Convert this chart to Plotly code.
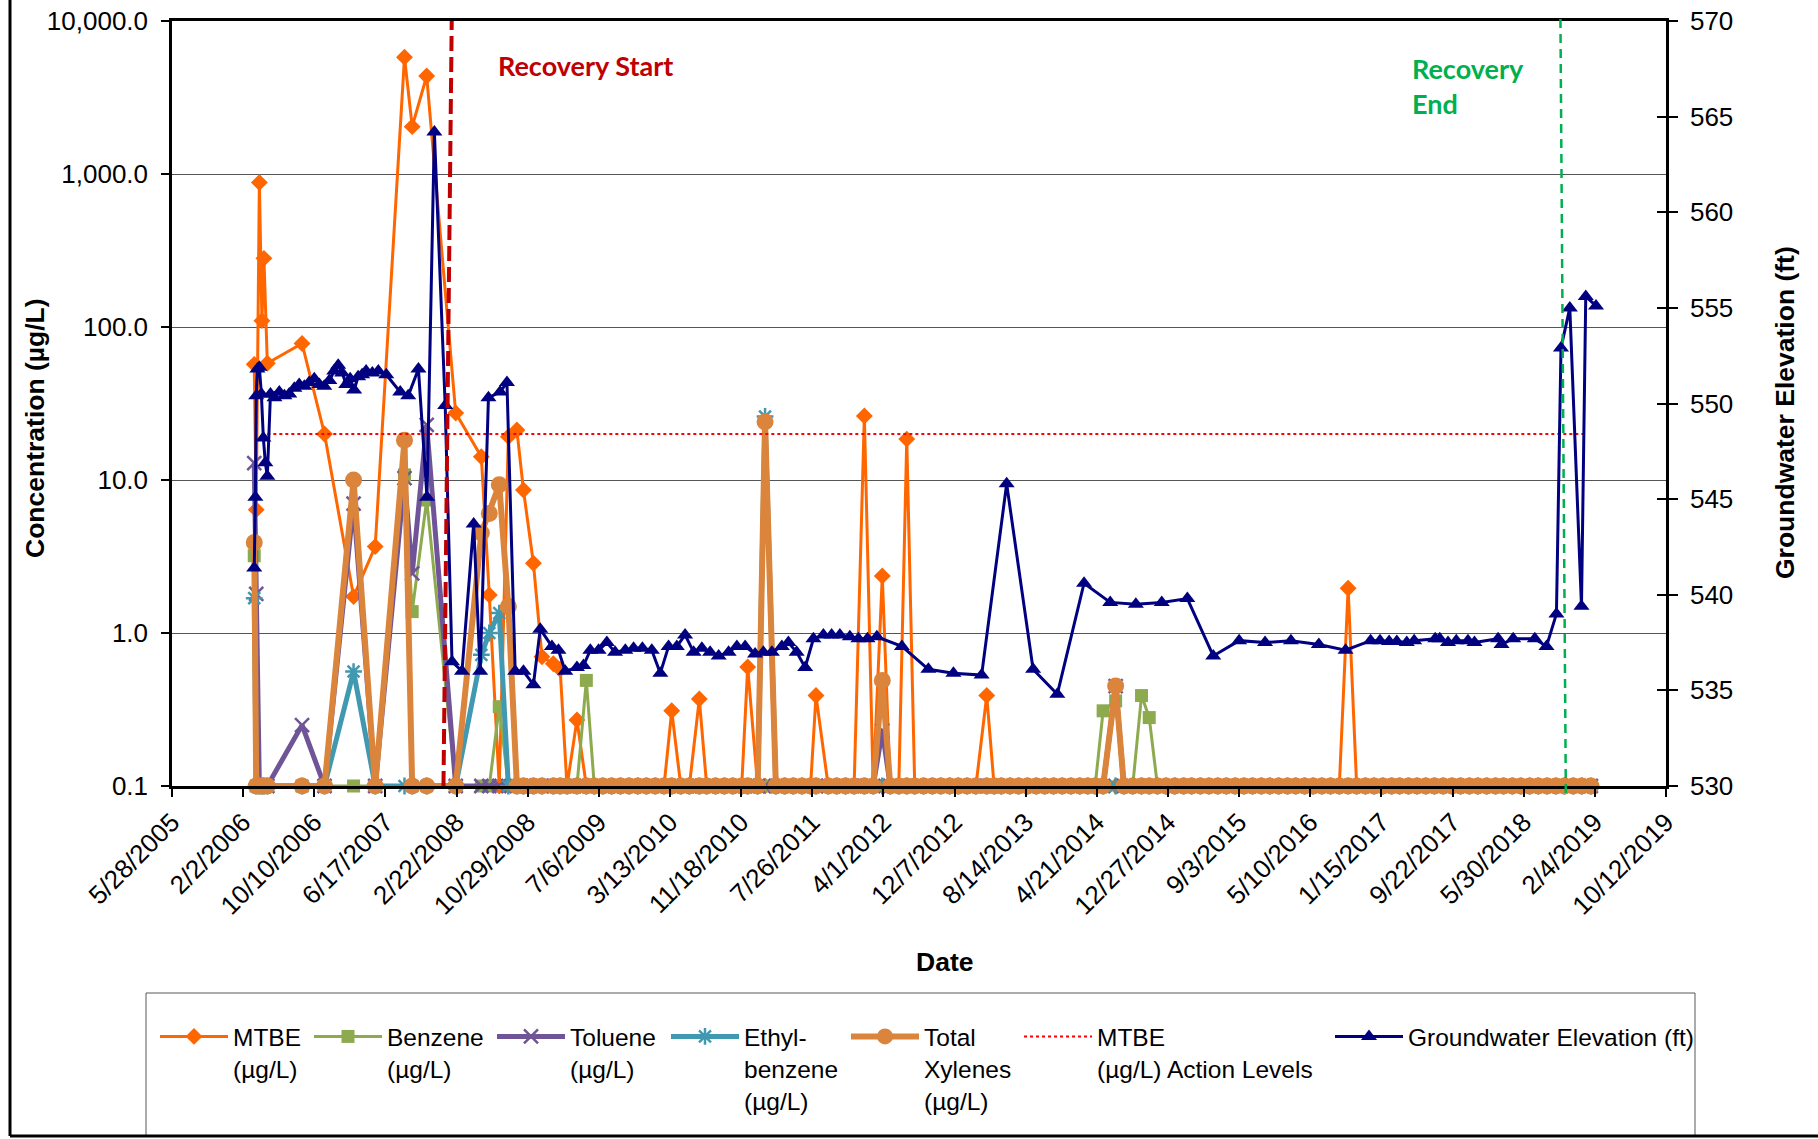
import pandas as pd
import plotly.graph_objects as go

# ---------------- DATA ----------------
voc_dates = [
    # 2006
    "2006-03-13", "2006-03-20", "2006-03-31", "2006-04-09", "2006-04-16", "2006-04-28", "2006-08-28", "2006-11-15",
    # 2007
    "2007-02-25", "2007-05-12", "2007-08-23", "2007-09-19", "2007-11-09",
    # 2008
    "2008-02-19", "2008-05-19", "2008-06-16", "2008-07-21", "2008-08-22", "2008-09-21", "2008-10-14", "2008-11-18", "2008-12-18",
    # 2009
    "2009-01-27", "2009-02-20", "2009-03-16", "2009-04-20", "2009-05-23", "2009-06-20", "2009-07-20", "2009-08-20", "2009-09-20", "2009-10-20", "2009-11-20", "2009-12-20",
    # 2010
    "2010-01-20", "2010-02-20", "2010-03-19", "2010-04-20", "2010-05-20", "2010-06-24", "2010-07-20", "2010-08-20", "2010-09-20", "2010-10-20", "2010-11-20", "2010-12-11",
    # 2011
    "2011-01-15", "2011-02-10", "2011-03-20", "2011-04-20", "2011-05-20", "2011-06-20", "2011-07-20", "2011-08-08", "2011-09-20", "2011-10-20", "2011-11-20", "2011-12-20",
    # 2012
    "2012-01-25", "2012-02-25", "2012-03-28", "2012-04-25", "2012-05-25", "2012-06-22", "2012-07-20", "2012-08-20", "2012-09-20", "2012-10-20", "2012-11-20", "2012-12-20",
    # 2013
    "2013-01-20", "2013-02-20", "2013-03-30", "2013-04-25", "2013-05-20", "2013-06-20", "2013-07-20", "2013-08-20", "2013-09-20", "2013-10-20", "2013-11-20", "2013-12-20",
    # 2014
    "2014-01-20", "2014-02-20", "2014-03-20", "2014-04-15", "2014-05-13", "2014-06-26", "2014-07-25", "2014-08-25", "2014-09-25", "2014-10-22", "2014-11-20", "2014-12-20",
    # 2015
    "2015-01-20", "2015-02-20", "2015-03-20", "2015-04-20", "2015-05-20", "2015-06-20", "2015-07-20", "2015-08-20", "2015-09-20", "2015-10-20", "2015-11-20", "2015-12-20",
    # 2016
    "2016-01-20", "2016-02-20", "2016-03-20", "2016-04-20", "2016-05-20", "2016-06-20", "2016-07-20", "2016-08-20", "2016-09-20", "2016-10-20", "2016-11-20", "2016-12-20",
    # 2017
    "2017-01-20", "2017-02-20", "2017-03-20", "2017-04-20", "2017-05-20", "2017-06-20", "2017-07-20", "2017-08-20", "2017-09-20", "2017-10-20", "2017-11-20", "2017-12-20",
    # 2018
    "2018-01-20", "2018-02-20", "2018-03-20", "2018-04-20", "2018-05-20", "2018-06-20", "2018-07-20", "2018-08-20", "2018-09-20", "2018-10-20", "2018-11-20", "2018-12-20",
    # 2019
    "2019-01-21",
]

mtbe = [
    57, 6.4, 880, 110, 281, 58, 78, 20,
    1.73, 3.67, 5800, 2040, 4370,
    27.4, 14.2, 1.77, 0.1, 19.2, 21.2, 8.6, 2.86, 0.70,
    0.63, 0.58, 0.1, 0.27, 0.1, 0.1, 0.1, 0.1, 0.1, 0.1, 0.1, 0.1,
    0.1, 0.1, 0.31, 0.1, 0.1, 0.37, 0.1, 0.1, 0.1, 0.1, 0.1, 0.60,
    0.1, 0.1, 0.1, 0.1, 0.1, 0.1, 0.1, 0.39, 0.1, 0.1, 0.1, 0.1,
    26.2, 0.1, 2.36, 0.1, 0.1, 18.5, 0.1, 0.1, 0.1, 0.1, 0.1, 0.1,
    0.1, 0.1, 0.39, 0.1, 0.1, 0.1, 0.1, 0.1, 0.1, 0.1, 0.1, 0.1,
    0.1, 0.1, 0.1, 0.1, 0.1, 0.1, 0.1, 0.1, 0.1, 0.1, 0.1, 0.1,
    0.1, 0.1, 0.1, 0.1, 0.1, 0.1, 0.1, 0.1, 0.1, 0.1, 0.1, 0.1,
    0.1, 0.1, 0.1, 0.1, 0.1, 0.1, 0.1, 0.1, 1.96, 0.1, 0.1, 0.1,
    0.1, 0.1, 0.1, 0.1, 0.1, 0.1, 0.1, 0.1, 0.1, 0.1, 0.1, 0.1,
    0.1, 0.1, 0.1, 0.1, 0.1, 0.1, 0.1, 0.1, 0.1, 0.1, 0.1, 0.1,
    0.1,
]

benzene = [
    3.2, 0.1, 0.1, 0.1, 0.1, 0.1, 0.1, 0.1,
    0.1, 0.1, 10.8, 1.38, 7.4,
    0.1, 0.1, 0.1, 0.33, 0.1, 0.1, 0.1, 0.1, 0.1,
    0.1, 0.1, 0.1, 0.1, 0.49, 0.1, 0.1, 0.1, 0.1, 0.1, 0.1, 0.1,
    0.1, 0.1, 0.1, 0.1, 0.1, 0.1, 0.1, 0.1, 0.1, 0.1, 0.1, 0.1,
    0.1, 0.1, 0.1, 0.1, 0.1, 0.1, 0.1, 0.1, 0.1, 0.1, 0.1, 0.1,
    0.1, 0.1, 0.1, 0.1, 0.1, 0.1, 0.1, 0.1, 0.1, 0.1, 0.1, 0.1,
    0.1, 0.1, 0.1, 0.1, 0.1, 0.1, 0.1, 0.1, 0.1, 0.1, 0.1, 0.1,
    0.1, 0.1, 0.1, 0.1, 0.31, 0.36, 0.1, 0.1, 0.39, 0.28, 0.1, 0.1,
    0.1, 0.1, 0.1, 0.1, 0.1, 0.1, 0.1, 0.1, 0.1, 0.1, 0.1, 0.1,
    0.1, 0.1, 0.1, 0.1, 0.1, 0.1, 0.1, 0.1, 0.1, 0.1, 0.1, 0.1,
    0.1, 0.1, 0.1, 0.1, 0.1, 0.1, 0.1, 0.1, 0.1, 0.1, 0.1, 0.1,
    0.1, 0.1, 0.1, 0.1, 0.1, 0.1, 0.1, 0.1, 0.1, 0.1, 0.1, 0.1,
    0.1,
]

toluene = [
    12.9, 1.8, 0.1, 0.1, 0.1, 0.1, 0.25, 0.1,
    7.0, 0.1, 10.3, 2.45, 22.9,
    0.1, 0.1, 0.1, 0.1, 0.1, 0.1, 0.1, 0.1, 0.1,
    0.1, 0.1, 0.1, 0.1, 0.1, 0.1, 0.1, 0.1, 0.1, 0.1, 0.1, 0.1,
    0.1, 0.1, 0.1, 0.1, 0.1, 0.1, 0.1, 0.1, 0.1, 0.1, 0.1, 0.1,
    0.1, 0.1, 0.1, 0.1, 0.1, 0.1, 0.1, 0.1, 0.1, 0.1, 0.1, 0.1,
    0.1, 0.1, 0.23, 0.1, 0.1, 0.1, 0.1, 0.1, 0.1, 0.1, 0.1, 0.1,
    0.1, 0.1, 0.1, 0.1, 0.1, 0.1, 0.1, 0.1, 0.1, 0.1, 0.1, 0.1,
    0.1, 0.1, 0.1, 0.1, 0.1, 0.45, 0.1, 0.1, 0.1, 0.1, 0.1, 0.1,
    0.1, 0.1, 0.1, 0.1, 0.1, 0.1, 0.1, 0.1, 0.1, 0.1, 0.1, 0.1,
    0.1, 0.1, 0.1, 0.1, 0.1, 0.1, 0.1, 0.1, 0.1, 0.1, 0.1, 0.1,
    0.1, 0.1, 0.1, 0.1, 0.1, 0.1, 0.1, 0.1, 0.1, 0.1, 0.1, 0.1,
    0.1, 0.1, 0.1, 0.1, 0.1, 0.1, 0.1, 0.1, 0.1, 0.1, 0.1, 0.1,
    0.1,
]

ethylbenzene = [
    1.69, 0.1, 0.1, 0.1, 0.1, 0.1, 0.1, 0.1,
    0.56, 0.1, 0.1, 0.1, 0.1,
    0.1, 0.72, 1.0, 1.35, 0.1, 0.1, 0.1, 0.1, 0.1,
    0.1, 0.1, 0.1, 0.1, 0.1, 0.1, 0.1, 0.1, 0.1, 0.1, 0.1, 0.1,
    0.1, 0.1, 0.1, 0.1, 0.1, 0.1, 0.1, 0.1, 0.1, 0.1, 0.1, 0.1,
    0.1, 26.0, 0.1, 0.1, 0.1, 0.1, 0.1, 0.1, 0.1, 0.1, 0.1, 0.1,
    0.1, 0.1, 0.1, 0.1, 0.1, 0.1, 0.1, 0.1, 0.1, 0.1, 0.1, 0.1,
    0.1, 0.1, 0.1, 0.1, 0.1, 0.1, 0.1, 0.1, 0.1, 0.1, 0.1, 0.1,
    0.1, 0.1, 0.1, 0.1, 0.1, 0.1, 0.1, 0.1, 0.1, 0.1, 0.1, 0.1,
    0.1, 0.1, 0.1, 0.1, 0.1, 0.1, 0.1, 0.1, 0.1, 0.1, 0.1, 0.1,
    0.1, 0.1, 0.1, 0.1, 0.1, 0.1, 0.1, 0.1, 0.1, 0.1, 0.1, 0.1,
    0.1, 0.1, 0.1, 0.1, 0.1, 0.1, 0.1, 0.1, 0.1, 0.1, 0.1, 0.1,
    0.1, 0.1, 0.1, 0.1, 0.1, 0.1, 0.1, 0.1, 0.1, 0.1, 0.1, 0.1,
    0.1,
]

xylenes = [
    3.9, 0.1, 0.1, 0.1, 0.1, 0.1, 0.1, 0.1,
    10.0, 0.1, 18.2, 0.1, 0.1,
    0.1, 4.5, 6.05, 9.3, 1.49, 0.1, 0.1, 0.1, 0.1,
    0.1, 0.1, 0.1, 0.1, 0.1, 0.1, 0.1, 0.1, 0.1, 0.1, 0.1, 0.1,
    0.1, 0.1, 0.1, 0.1, 0.1, 0.1, 0.1, 0.1, 0.1, 0.1, 0.1, 0.1,
    0.1, 24.0, 0.1, 0.1, 0.1, 0.1, 0.1, 0.1, 0.1, 0.1, 0.1, 0.1,
    0.1, 0.1, 0.49, 0.1, 0.1, 0.1, 0.1, 0.1, 0.1, 0.1, 0.1, 0.1,
    0.1, 0.1, 0.1, 0.1, 0.1, 0.1, 0.1, 0.1, 0.1, 0.1, 0.1, 0.1,
    0.1, 0.1, 0.1, 0.1, 0.1, 0.45, 0.1, 0.1, 0.1, 0.1, 0.1, 0.1,
    0.1, 0.1, 0.1, 0.1, 0.1, 0.1, 0.1, 0.1, 0.1, 0.1, 0.1, 0.1,
    0.1, 0.1, 0.1, 0.1, 0.1, 0.1, 0.1, 0.1, 0.1, 0.1, 0.1, 0.1,
    0.1, 0.1, 0.1, 0.1, 0.1, 0.1, 0.1, 0.1, 0.1, 0.1, 0.1, 0.1,
    0.1, 0.1, 0.1, 0.1, 0.1, 0.1, 0.1, 0.1, 0.1, 0.1, 0.1, 0.1,
    0.1,
]

action_dates = ["2006-04-28", "2019-01-03"]
action_levels = [20, 20]

gw_dates = [
    "2006-03-13", "2006-03-17", "2006-03-20", "2006-03-24", "2006-03-31", "2006-04-07", "2006-04-14", "2006-04-21",
    "2006-04-28", "2006-05-09", "2006-05-23", "2006-06-09", "2006-06-27", "2006-07-14", "2006-08-01", "2006-08-18",
    "2006-09-05", "2006-09-22", "2006-10-10", "2006-10-28", "2006-11-14", "2006-12-02", "2006-12-19",
    "2007-01-02", "2007-01-16", "2007-01-30", "2007-02-13", "2007-02-27", "2007-03-13", "2007-03-27", "2007-04-10",
    "2007-05-02", "2007-05-23", "2007-06-20", "2007-08-08", "2007-09-05", "2007-10-11", "2007-11-10", "2007-12-06",
    "2008-01-13", "2008-02-06", "2008-03-12", "2008-04-22", "2008-05-15", "2008-06-13", "2008-07-24", "2008-08-17",
    "2008-09-15", "2008-10-14", "2008-11-18", "2008-12-12",
    "2009-01-22", "2009-02-14", "2009-03-10", "2009-04-20", "2009-05-13", "2009-06-06", "2009-07-05", "2009-08-03",
    "2009-09-01", "2009-10-07", "2009-11-05", "2009-12-06",
    "2010-01-08", "2010-02-07", "2010-03-08", "2010-04-06", "2010-05-05", "2010-06-04", "2010-07-03", "2010-08-01",
    "2010-08-31", "2010-10-05", "2010-11-03", "2010-12-02",
    "2011-01-06", "2011-02-04", "2011-03-06", "2011-04-10", "2011-05-03", "2011-06-01", "2011-07-01", "2011-07-30",
    "2011-09-03", "2011-10-02", "2011-10-31", "2011-12-05",
    "2012-01-04", "2012-02-05", "2012-03-09", "2012-06-05", "2012-09-06", "2012-12-03",
    "2013-03-12", "2013-06-08", "2013-09-09", "2013-12-03",
    "2014-03-07", "2014-06-07", "2014-09-05", "2014-12-05",
    "2015-03-05", "2015-06-04", "2015-09-03", "2015-12-03",
    "2016-03-03", "2016-06-09", "2016-09-11", "2016-12-08",
    "2017-01-10", "2017-02-11", "2017-03-10", "2017-04-14", "2017-05-10", "2017-07-23", "2017-08-08", "2017-09-06",
    "2017-10-05", "2017-11-15", "2017-12-08",
    "2018-03-01", "2018-03-13", "2018-04-23", "2018-07-08", "2018-08-18", "2018-09-22", "2018-10-08", "2018-11-08",
    "2018-12-19",
    "2019-01-03", "2019-02-08",
]

gw_elev = [
    541.4, 545.1, 550.4, 551.8, 551.9, 550.5, 548.2, 546.9,
    546.2, 550.5, 550.3, 550.6, 550.4, 550.5, 550.8, 551.0,
    550.9, 551.1, 551.3, 551.0, 550.9, 551.2, 551.7,
    552.0, 551.6, 551.0, 551.3, 550.7, 551.4, 551.5, 551.7,
    551.6, 551.7, 551.5, 550.6, 550.4, 551.8, 545.1, 564.2,
    549.9, 536.5, 536.0, 543.7, 536.0, 550.3, 550.6, 551.1,
    536.0, 536.0, 535.3, 538.2,
    537.3, 537.1, 536.0, 536.2, 536.3, 537.1, 537.1, 537.5,
    537.0, 537.1, 537.2, 537.2,
    537.1, 535.9, 537.3, 537.3, 537.9, 537.0, 537.2, 537.0,
    536.8, 537.0, 537.3, 537.3,
    536.9, 537.0, 537.0, 537.3, 537.5, 537.0, 536.2, 537.7,
    537.9, 537.9, 537.9, 537.8,
    537.7, 537.7, 537.8, 537.3, 536.1, 535.9,
    535.8, 545.8, 536.1, 534.8,
    540.6, 539.6, 539.5, 539.6,
    539.8, 536.8, 537.6, 537.5,
    537.6, 537.4, 537.1, 537.6,
    537.6, 537.55, 537.55, 537.5, 537.6, 537.7, 537.7, 537.5,
    537.6, 537.6, 537.5,
    537.7, 537.4, 537.7, 537.7, 537.3, 539.0, 552.9, 555.0,
    539.4,
    555.6, 555.1,
]

x_tick_labels = ["5/28/2005", "2/2/2006", "10/10/2006", "6/17/2007", "2/22/2008", "10/29/2008",
                 "7/6/2009", "3/13/2010", "11/18/2010", "7/26/2011", "4/1/2012", "12/7/2012",
                 "8/14/2013", "4/21/2014", "12/27/2014", "9/3/2015", "5/10/2016", "1/15/2017",
                 "9/22/2017", "5/30/2018", "2/4/2019", "10/12/2019"]
conc_tick_vals = [0.1, 1, 10, 100, 1000, 10000]
conc_tick_text = ["0.1", "1.0", "10.0", "100.0", "1,000.0", "10,000.0"]

recovery_start = ("2008-01-07", "2008-02-05")   # bottom, top of the drawn marker line
recovery_end = ("2018-10-25", "2018-10-06")

for s in (mtbe, benzene, toluene, ethylbenzene, xylenes):
    assert len(s) == len(voc_dates), (len(s), len(voc_dates))
assert len(gw_dates) == len(gw_elev), (len(gw_dates), len(gw_elev))

# ---------------- LAYOUT HELPERS ----------------
W, H = 1818, 1139
L, R, T, B = 172, 1666, 21, 786


def px(X):
    return (X - L) / (R - L)


def py(Y):
    return 1 - (Y - T) / (B - T)


FONT = "Liberation Sans, Arial, Helvetica, sans-serif"
tick_dates = list(pd.to_datetime(x_tick_labels, format="%m/%d/%Y"))

fig = go.Figure()


def conc_trace(y, name, color, width, symbol, size, lw, open_sym=False):
    mk = dict(symbol=symbol, size=size, color=color)
    if open_sym:
        mk["line"] = dict(color=color, width=2.5)
    else:
        mk["line"] = dict(width=0)
    return go.Scatter(x=voc_dates, y=y, name=name, mode="lines+markers",
                      line=dict(color=color, width=width), marker=mk,
                      cliponaxis=False, legendwidth=lw)


fig.add_trace(conc_trace(mtbe, "MTBE<br>(µg/L)", "#FF6600", 3, "diamond", 13, 71))
fig.add_trace(conc_trace(benzene, "Benzene<br>(µg/L)", "#8DAA4F", 3, "square", 13, 100))
fig.add_trace(conc_trace(toluene, "Toluene<br>(µg/L)", "#6F5597", 5, "x-thin", 14, 91, open_sym=True))
fig.add_trace(conc_trace(ethylbenzene, "Ethyl-<br>benzene<br>(µg/L)", "#4099B0", 5, "asterisk", 14, 97, open_sym=True))
fig.add_trace(conc_trace(xylenes, "Total<br>Xylenes<br>(µg/L)", "#DA843C", 6, "circle", 17, 90))
fig.add_trace(go.Scatter(x=action_dates, y=action_levels, name="MTBE<br>(µg/L) Action Levels",
                         mode="lines", line=dict(color="#FF0000", width=2, dash="dot"), legendwidth=228))
fig.add_trace(go.Scatter(x=gw_dates, y=gw_elev, name="Groundwater Elevation (ft)", yaxis="y2",
                         mode="lines+markers", line=dict(color="#000080", width=3),
                         marker=dict(symbol="triangle-up", size=14, color="#000080", line=dict(width=0)),
                         cliponaxis=False))
# empty trace to realise the tick-only overlay axis (gives the right axis crossing ticks)
fig.add_trace(go.Scatter(x=[], y=[], yaxis="y3", showlegend=False, hoverinfo="skip"))

fig.update_layout(
    width=W, height=H,
    margin=dict(l=L, r=W - R, t=T, b=H - B, pad=0),
    paper_bgcolor="white", plot_bgcolor="white",
    font=dict(family=FONT, size=24, color="black"),
    showlegend=True,
    legend=dict(orientation="h", x=px(155), y=py(1014), xanchor="left", yanchor="top",
                itemwidth=68, valign="top", font=dict(size=24.5, family=FONT, color="black"),
                bgcolor="rgba(0,0,0,0)", borderwidth=0, traceorder="normal"),
    xaxis=dict(type="date", range=["2005-05-28", "2019-10-12"], tickvals=tick_dates,
               ticktext=x_tick_labels, tickangle=-45, tickfont=dict(size=26),
               ticks="outside", ticklen=8, tickwidth=1.5, tickcolor="black",
               showline=True, linecolor="black", linewidth=2.5, mirror=True,
               showgrid=False, zeroline=False, automargin=False),
    yaxis=dict(type="log", range=[-1, 4], tickvals=conc_tick_vals, ticktext=conc_tick_text,
               tickfont=dict(size=26), ticks="outside", ticklen=8, tickwidth=1.5, tickcolor="black",
               ticklabelstandoff=8,
               showline=True, linecolor="black", linewidth=2.5,
               showgrid=True, gridcolor="#555555", gridwidth=1, zeroline=False, automargin=False),
    yaxis2=dict(overlaying="y", side="right", range=[530, 570], tick0=530, dtick=5,
                tickfont=dict(size=26), ticks="outside", ticklen=9, tickwidth=1.5, tickcolor="black",
                ticklabelstandoff=7,
                showline=True, linecolor="black", linewidth=2.5, showgrid=False, zeroline=False,
                automargin=False),
    yaxis3=dict(overlaying="y", side="right", range=[530, 570], tick0=530, dtick=5,
                ticks="inside", ticklen=9, tickwidth=1.5, tickcolor="black", showticklabels=False,
                showline=False, showgrid=False, zeroline=False, automargin=False),
)

# axis titles (placed as in the original)
TITLE_FONT = dict(family=FONT, size=26.5, color="black")
fig.add_annotation(text="<b>Concentration (µg/L)</b>", xref="paper", yref="paper", x=px(35), y=py(428),
                   textangle=-90, showarrow=False, xanchor="center", yanchor="middle", font=TITLE_FONT)
fig.add_annotation(text="<b>Groundwater Elevation (ft)</b>", xref="paper", yref="paper", x=px(1785), y=py(413),
                   textangle=-90, showarrow=False, xanchor="center", yanchor="middle", font=TITLE_FONT)
fig.add_annotation(text="<b>Date</b>", xref="paper", yref="paper", x=px(944), y=py(962),
                   showarrow=False, xanchor="center", yanchor="middle", font=TITLE_FONT)

ANN_FONT = "Lato, Open Sans, sans-serif"
fig.add_annotation(text="<b>Recovery Start</b>", xref="paper", yref="paper", x=px(496), y=py(65),
                   xanchor="left", yanchor="middle", showarrow=False,
                   font=dict(family=ANN_FONT, size=27, color="#C00000"))
fig.add_annotation(text="<b>Recovery<br>End</b>", xref="paper", yref="paper", x=px(1410), y=py(86),
                   xanchor="left", yanchor="middle", align="left", showarrow=False,
                   font=dict(family=ANN_FONT, size=27, color="#00B050"))

# recovery start / end marker lines
fig.add_shape(type="line", xref="x", yref="paper", x0=recovery_start[0], y0=0, x1=recovery_start[1], y1=1,
              line=dict(color="#C00000", width=4, dash="15px,6px"), layer="above")
fig.add_shape(type="line", xref="x", yref="paper", x0=recovery_end[0], y0=py(793), x1=recovery_end[1], y1=py(18),
              line=dict(color="#00B050", width=2.5, dash="9px,6px"), layer="above")
# legend frame
fig.add_shape(type="rect", xref="paper", yref="paper", x0=px(146), x1=px(1695), y0=py(1136), y1=py(993),
              line=dict(color="#595959", width=1), fillcolor="rgba(0,0,0,0)", layer="below")
# outer chart frame (left and bottom edges visible)
fig.add_shape(type="line", xref="paper", yref="paper", x0=px(10), x1=px(10), y0=py(-5), y1=py(1136),
              line=dict(color="black", width=3))
fig.add_shape(type="line", xref="paper", yref="paper", x0=px(10), x1=px(1830), y0=py(1136), y1=py(1136),
              line=dict(color="black", width=3))

fig.write_html("out.html", config={"displayModeBar": False},
               post_script="document.body.style.margin='0';")
